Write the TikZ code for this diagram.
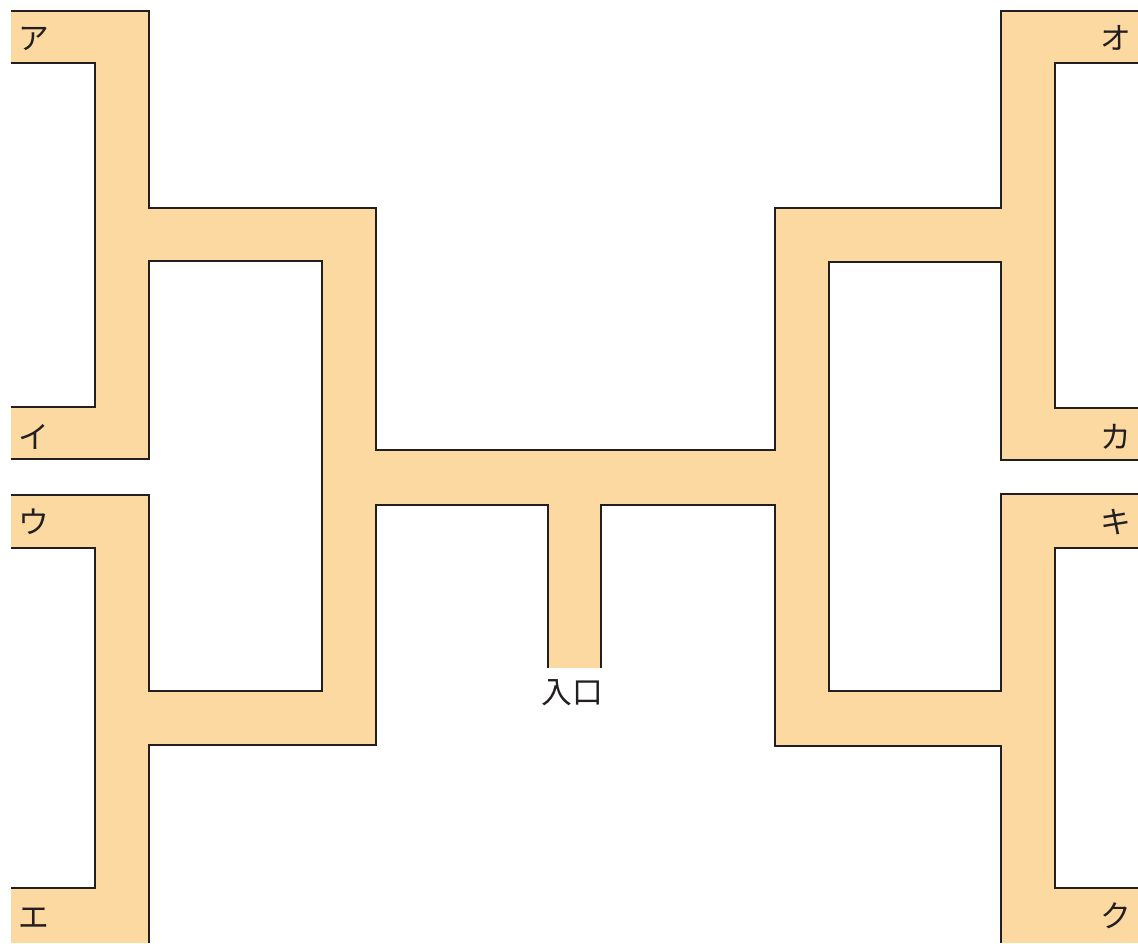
\documentclass[tikz,border=0pt]{standalone}
\usepackage{fontspec}
\newfontfamily\jpfont{Noto Sans CJK JP}
\definecolor{corridorfill}{RGB}{253, 217, 162}
\definecolor{walldark}{RGB}{35, 31, 32}

\begin{document}
\begin{tikzpicture}[
    x=0.02cm, y=-0.02cm,
    % Corridor styles
    corridor/.style={
        fill=corridorfill
    },
    wall/.style={
        draw=walldark,
        line width=1.6pt,
        line join=miter
    },
    roomlabel/.style={
        font=\jpfont\fontsize{17.5}{20}\selectfont,
        text=walldark,
        inner sep=0pt
    }
]
    \useasboundingbox (0,0) rectangle (1138,943);

    % =========================================================================
    % 1. CORRIDOR FILL
    % =========================================================================
    \foreach \xa/\ya/\xb/\yb in {
        11/11/149/63, 95/11/149/459, 11/407/149/459,
        149/208/376/261, 322/208/376/745,
        11/495/149/548, 95/495/149/943, 11/888/149/943,
        149/691/376/745,
        376/450/775/505, 548/505/601/668,
        775/208/829/746, 829/208/1001/262, 829/691/1001/746,
        1001/11/1055/460, 1055/11/1138/63, 1055/408/1138/460,
        1001/494/1055/943, 1055/494/1138/548, 1055/888/1138/943}
        \fill[corridor] (\xa,\ya) rectangle (\xb,\yb);

    % =========================================================================
    % 2. WALLS
    % =========================================================================
    % Outer wall along the top
    \draw[wall] (11,11) -- (149,11) -- (149,208) -- (376,208) -- (376,450)
        -- (775,450) -- (775,208) -- (1001,208) -- (1001,11) -- (1138,11);

    % Left side
    \draw[wall] (11,63) -- (95,63) -- (95,407) -- (11,407);
    \draw[wall] (11,459) -- (149,459) -- (149,261) -- (322,261) -- (322,691)
        -- (149,691) -- (149,495) -- (11,495);
    \draw[wall] (11,548) -- (95,548) -- (95,888) -- (11,888);

    % Bottom walls round the entrance
    \draw[wall] (149,943) -- (149,745) -- (376,745) -- (376,505)
        -- (548,505) -- (548,668);
    \draw[wall] (601,668) -- (601,505) -- (775,505) -- (775,746)
        -- (1001,746) -- (1001,943);

    % Right side
    \draw[wall] (1138,63) -- (1055,63) -- (1055,408) -- (1138,408);
    \draw[wall] (1138,460) -- (1001,460) -- (1001,262) -- (829,262) -- (829,691)
        -- (1001,691) -- (1001,494) -- (1138,494);
    \draw[wall] (1138,548) -- (1055,548) -- (1055,888) -- (1138,888);

    % =========================================================================
    % 3. LABELS
    % =========================================================================
    \node[roomlabel] (lbl_a) at (34,39) {ア};
    \node[roomlabel] (lbl_i) at (34,437) {イ};
    \node[roomlabel] (lbl_u) at (34,522) {ウ};
    \node[roomlabel] (lbl_e) at (34,918) {エ};
    \node[roomlabel] (lbl_o) at (1116,38) {オ};
    \node[roomlabel] (lbl_ka) at (1116,437) {カ};
    \node[roomlabel] (lbl_ki) at (1116,522) {キ};
    \node[roomlabel] (lbl_ku) at (1116,916) {ク};
    \node[roomlabel] (entrance) at (572,693) {入口};

\end{tikzpicture}
\end{document}
